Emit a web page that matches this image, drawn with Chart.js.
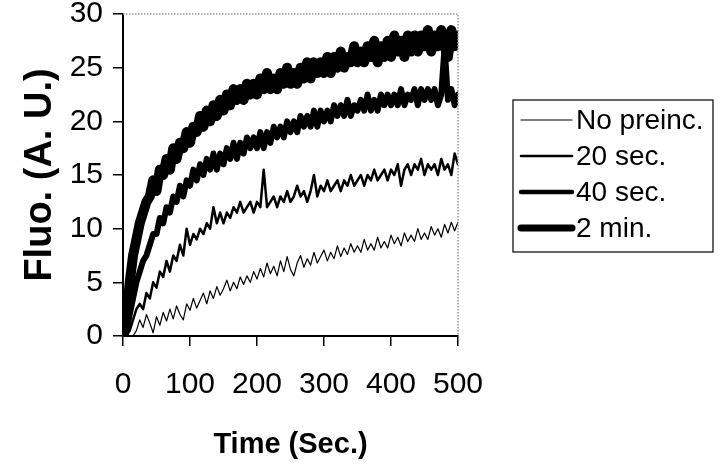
<!DOCTYPE html>
<html>
<head>
<meta charset="utf-8">
<script src="https://cdn.jsdelivr.net/npm/chart.js@4.4.1/dist/chart.umd.min.js"></script>
<style>
  html, body { margin: 0; padding: 0; background: #fff; }
  #wrap { width: 720px; height: 471px; }
</style>
</head>
<body>
<div id="wrap"><canvas id="fluoChart" width="720" height="471"></canvas></div>
<script>
// time points (sec.)
const times = [0, 5, 10, 15, 20, 25, 30, 35, 40, 45, 50, 55, 60, 65, 70, 75, 80, 85, 90, 95,
  100, 105, 110, 115, 120, 125, 130, 135, 140, 145, 150, 155, 160, 165, 170, 175, 180, 185, 190, 195,
  200, 205, 210, 215, 220, 225, 230, 235, 240, 245, 250, 255, 260, 265, 270, 275, 280, 285, 290, 295,
  300, 305, 310, 315, 320, 325, 330, 335, 340, 345, 350, 355, 360, 365, 370, 375, 380, 385, 390, 395,
  400, 405, 410, 415, 420, 425, 430, 435, 440, 445, 450, 455, 460, 465, 470, 475, 480, 485, 490, 495, 500];

// series
const noPreinc = [0, 0, 0, 0, 0.5, 1.5, 0.8, 2, 1.2, 0.3, 1.8, 1, 2.2, 1.4, 2.5, 1.6, 2.8, 2, 1.5, 3,
  2.4, 3.5, 2.6, 3.3, 4, 3, 4.2, 3.5, 4.6, 3.8, 4.4, 5.2, 4.2, 5, 4.4, 5.5, 4.8, 5.6, 5, 6,
  5.3, 6.3, 5.5, 6.8, 5.8, 6.5, 5.6, 7, 6, 7.4, 6.2, 5.6, 6.8, 7.5, 6.4, 7.2, 6.6, 7.8, 6.8, 7.4,
  8, 7, 7.8, 7.2, 8.4, 7.4, 8.2, 7.6, 8.6, 7.8, 8.4, 7.8, 9, 8, 8.6, 8, 9.2, 8.2, 8.8, 8.2,
  9.4, 8.6, 9.2, 8.4, 9.6, 8.8, 9.4, 8.8, 10, 9, 9.6, 9, 10.2, 9.4, 10, 9.2, 10.4, 9.6, 10.6, 9.8, 10.6];

const sec20 = [0, 0, 0.5, 1.5, 2.5, 3, 2.5, 4, 3.5, 5, 4.5, 6, 5.5, 7, 6, 7.5, 7, 8.5, 7.5, 10,
  8.5, 9.5, 9, 10, 9.5, 10.5, 10, 12, 10.5, 11.5, 10.5, 11.5, 11, 12, 11.5, 12.5, 11.5, 12, 12.5, 11.5,
  12.5, 12, 15.5, 12, 12.5, 13, 12, 13, 12.5, 13.5, 12.5, 13, 14, 13, 13.5, 12.5, 13.5, 15, 13, 14,
  13.5, 14.5, 13.5, 14, 14.5, 13.5, 14.5, 14, 15, 14, 14.5, 15, 14, 15, 14.5, 15.5, 14.5, 15, 15.5, 14.5,
  15.5, 15, 16, 14, 15.5, 16, 15, 16, 15.5, 16.5, 15, 16, 15.5, 16, 15, 16.5, 15.5, 16, 15, 17, 16];

const sec40 = [0, 0.5, 2, 3.5, 5, 6, 7, 7.5, 8.5, 9.5, 9.5, 11, 10.5, 12, 11.5, 13, 12.5, 14, 13, 14.5,
  14, 15.5, 14.5, 16, 15, 16.5, 15.5, 17, 15.5, 17, 16, 17.5, 16.5, 18, 16.5, 18, 17, 18.5, 17.5, 18.5,
  17.5, 19, 17.5, 19, 18, 19.5, 18.5, 19.5, 18.5, 20, 19, 20, 19, 20.5, 19.5, 20.5, 19.5, 21, 19.5, 21,
  20, 21, 20, 21.5, 20.5, 21.5, 20.5, 22, 20.5, 21.5, 21, 22, 21, 22.5, 21, 22, 21, 22.5, 21.5, 22.5,
  21.5, 22.5, 21.5, 23, 21.5, 22.5, 22, 23, 21.5, 23, 22, 23, 22, 23, 21.5, 22.5, 27, 22, 23, 21.5, 22.5];

const min2 = [0, 1.5, 5, 7.5, 9, 10.5, 11.5, 12.5, 13, 14.5, 13.5, 15.5, 15, 16.5, 15.5, 17.5, 16.5, 18, 17.5, 19,
  18, 19.5, 19, 20.5, 19.5, 21, 20, 21.5, 20.5, 22, 21, 22.5, 21.5, 23, 22, 23, 22, 23.5, 22.5, 23.5,
  22.5, 24, 23, 24.5, 23, 24, 23, 24.5, 23.5, 25, 23.5, 24.5, 23.5, 25, 24, 25.5, 24, 25.5, 24.5, 25.5,
  24.5, 26, 24.5, 26, 25, 26.5, 25, 26, 25.5, 27, 25.5, 26.5, 25.5, 27, 26, 27.5, 25.5, 27, 26, 27.5,
  26, 28, 26.5, 27.5, 26, 28, 26.5, 28, 26.5, 28, 27, 28.5, 26.5, 28, 27, 28.5, 27, 26, 28.5, 27, 28];

const seriesLabels = ['No preinc.', '20 sec.', '40 sec.', '2 min.'];
const lineWidths = [1.2, 2.5, 6, 10];
const legendWidths = [1.2, 2.5, 4.5, 7];

const yTicks = [0, 5, 10, 15, 20, 25, 30];
const xTicks = [0, 100, 200, 300, 400, 500];

const FONT = "'Liberation Sans', Arial, Helvetica, sans-serif";

function toPoints(vals) {
  return vals.map((v, i) => ({ x: times[i], y: v }));
}

// dotted gray frame on top/right + boxed legend
const framePlugin = {
  id: 'frame',
  afterDraw(chart) {
    const { ctx, chartArea: a } = chart;
    ctx.save();
    ctx.strokeStyle = '#9a9a9a';
    ctx.lineWidth = 1.5;
    ctx.setLineDash([1.5, 1.5]);
    ctx.beginPath();
    ctx.moveTo(a.left, a.top);
    ctx.lineTo(a.right, a.top);
    ctx.lineTo(a.right, a.bottom);
    ctx.stroke();
    ctx.restore();

    // legend
    const lx = 513, ly = 100, lw = 200, lh = 152, rowH = 36;
    ctx.save();
    ctx.strokeStyle = '#000';
    ctx.lineWidth = 1.2;
    ctx.strokeRect(lx, ly, lw, lh);
    ctx.font = '28px ' + FONT;
    ctx.fillStyle = '#000';
    ctx.textBaseline = 'middle';
    chart.data.datasets.forEach((ds, i) => {
      const cy = ly + 20 + i * rowH;
      ctx.lineWidth = legendWidths[i];
      ctx.lineCap = 'round';
      ctx.beginPath();
      ctx.moveTo(521, cy);
      ctx.lineTo(572, cy);
      ctx.stroke();
      ctx.fillText(ds.label, 576, cy + 1);
    });
    ctx.restore();
  }
};

const seriesVals = [noPreinc, sec20, sec40, min2];

new Chart(document.getElementById('fluoChart'), {
  type: 'line',
  data: {
    datasets: seriesVals.map((vals, i) => ({
      label: seriesLabels[i],
      data: toPoints(vals),
      borderColor: '#000',
      borderWidth: lineWidths[i],
      pointRadius: 0,
      tension: 0,
      borderJoinStyle: 'round',
      borderCapStyle: 'round',
    })),
  },
  options: {
    responsive: false,
    animation: false,
    events: [],
    layout: { padding: { top: 14, right: 262, bottom: 0, left: 0 } },
    plugins: { legend: { display: false }, tooltip: { enabled: false } },
    scales: {
      x: {
        type: 'linear',
        min: 0,
        max: 500,
        afterBuildTicks: (s) => { s.ticks = xTicks.map(v => ({ value: v })); },
        afterFit: (s) => { s.height = 135; s.paddingLeft = 0; s.paddingRight = 0; },
        grid: { drawOnChartArea: false, drawTicks: true, tickLength: 10, color: '#000', lineWidth: 1.5 },
        border: { color: '#000', width: 2 },
        ticks: { color: '#000', padding: 21, maxRotation: 0, font: { family: FONT, size: 30 } },
        title: {
          display: true, text: 'Time (Sec.)', color: '#000',
          font: { family: FONT, size: 29, weight: 'bold' },
          padding: { top: 0, bottom: 9 },
        },
      },
      y: {
        min: 0,
        max: 30,
        afterBuildTicks: (s) => { s.ticks = yTicks.map(v => ({ value: v })); },
        afterFit: (s) => { s.width = 123; s.paddingTop = 0; s.paddingBottom = 0; },
        grid: { drawOnChartArea: false, drawTicks: true, tickLength: 10, color: '#000', lineWidth: 1.5 },
        border: { color: '#000', width: 2 },
        ticks: { color: '#000', padding: 10, font: { family: FONT, size: 30 } },
        title: {
          display: true, text: 'Fluo. (A. U.)', color: '#000',
          font: { family: FONT, size: 38, weight: 'bold' },
          padding: { top: 18, bottom: 0 },
        },
      },
    },
  },
  plugins: [framePlugin],
});
</script>
</body>
</html>
